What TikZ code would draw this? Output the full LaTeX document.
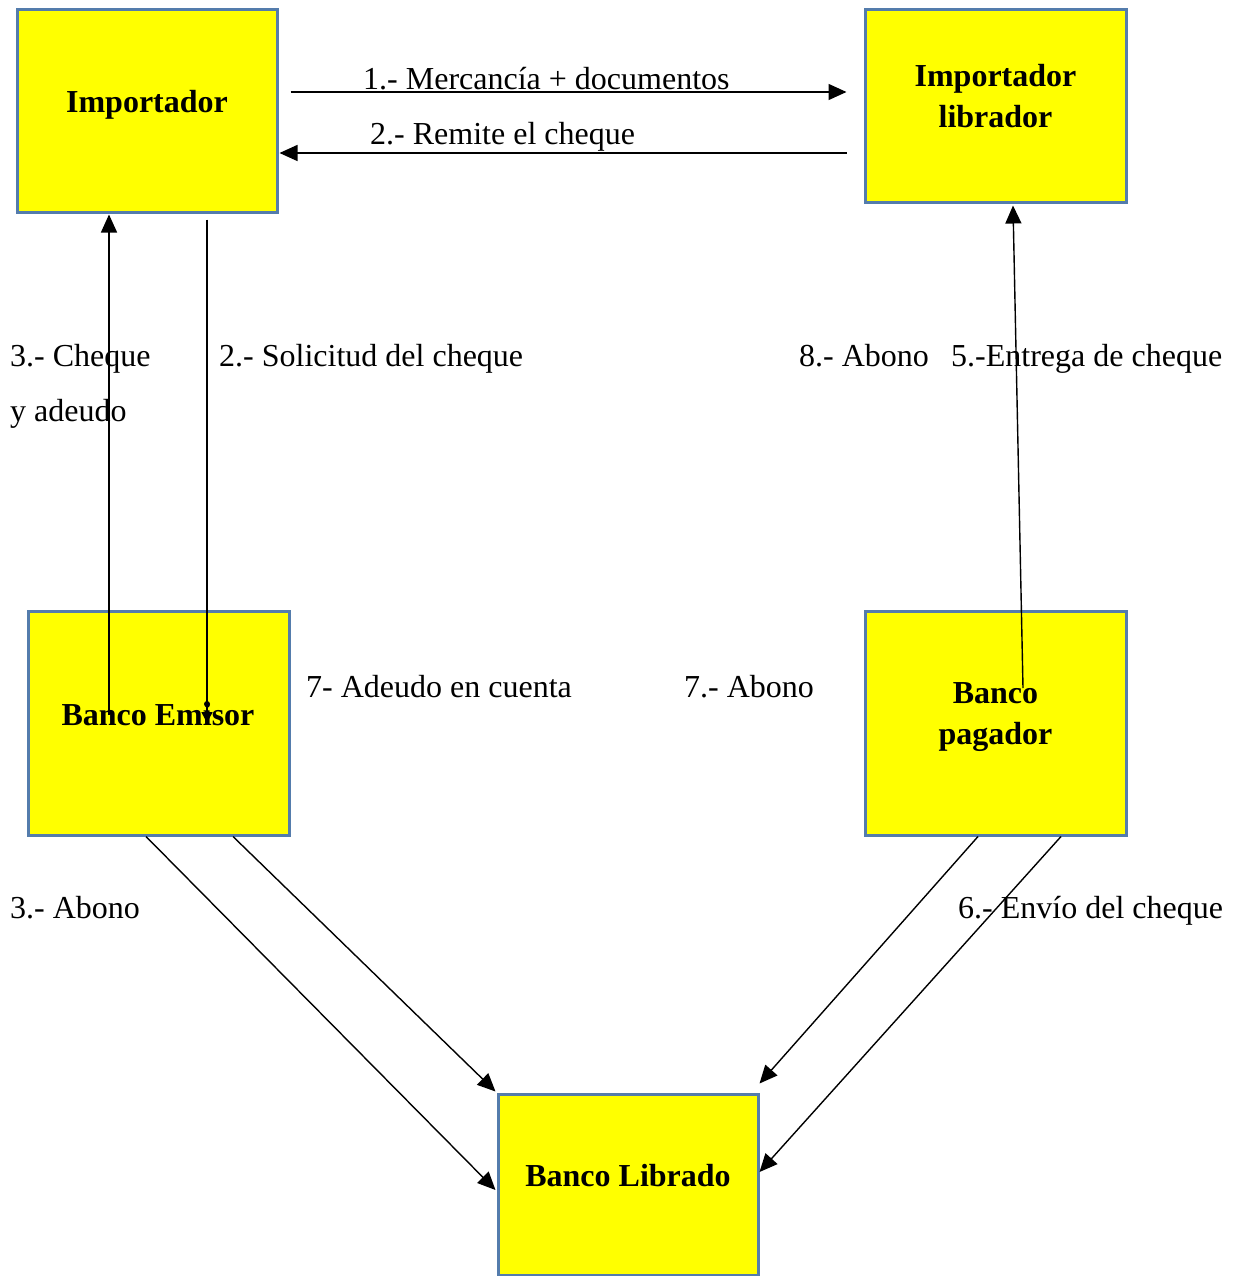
\documentclass[tikz,border=0pt]{standalone}
\usepackage{fontspec}
\setmainfont{Liberation Serif}
\usetikzlibrary{arrows.meta,calc}
\definecolor{boxfill}{RGB}{255,255,0}
\definecolor{boxline}{RGB}{84,124,172}
\tikzset{
  box/.style={draw=boxline, line width=3pt, fill=boxfill, inner sep=0pt},
  bt/.style={font=\fontsize{32}{40}\selectfont\bfseries, inner sep=0pt, anchor=base},
  lbl/.style={font=\fontsize{32}{40}\selectfont, inner sep=0pt, anchor=base west},
  conn/.style={line width=1.4pt, -{Triangle[length=18pt,width=16pt]}},
  smallconn/.style={line width=1.4pt, -{Triangle[length=11pt,width=11pt]}}
}
\begin{document}
\begin{tikzpicture}[x=1pt,y=-1pt]
\useasboundingbox[fill=white] (0,0) rectangle (1238,1276);
% boxes
\node[box, minimum width=260pt, minimum height=202pt] (imp) at (147,111) {};
\node[box, minimum width=261pt, minimum height=192pt] (impl) at (995.5,106) {};
\node[box, minimum width=261pt, minimum height=224pt] (emi) at (158.5,723) {};
\node[box, minimum width=261pt, minimum height=224pt] (pag) at (995.5,723) {};
\node[box, minimum width=260pt, minimum height=181pt] (lib) at (628,1184.5) {};
% box texts
\node[bt] (timp) at (147,113) {Importador};
\node[bt] (timpl1) at (995.5,87) {Importador};
\node[bt] (timpl2) at (995.5,128) {librador};
\node[bt] (temi) at (158,725) {Banco Emisor};
\node[bt] (tpag1) at (995.5,703) {Banco};
\node[bt] (tpag2) at (995.5,744) {pagador};
\node[bt] (tlib) at (628,1186) {Banco Librado};
% labels
\node[lbl] (l1) at (363,90) {1.- Mercancía + documentos};
\node[lbl] (l2) at (370,145) {2.- Remite el cheque};
\node[lbl] (l3a) at (10,366) {3.- Cheque};
\node[lbl] (l3b) at (10,421) {y adeudo};
\node[lbl] (l2b) at (219,366) {2.- Solicitud del cheque};
\node[lbl] (l8) at (799,366) {8.- Abono};
\node[lbl] (l5) at (951,366) {5.-Entrega de cheque};
\node[lbl] (l7a) at (306,697) {7- Adeudo en cuenta};
\node[lbl] (l7b) at (684,697) {7.- Abono};
\node[lbl] (l3c) at (10,918) {3.- Abono};
\node[lbl] (l6) at (958,918) {6.- Envío del cheque};
% connectors
\draw[conn] ($(imp.east)+(12,-19)$) -- ($(impl.west)+(-17,-14)$);
\draw[conn] ($(impl.west)+(-17,47)$) -- ($(imp.east)+(1,42)$);
\draw[conn] ($(emi.center)+(-49.5,-8)$) -- ($(imp.south)+(-38,1)$);
\draw[smallconn] ($(imp.south)+(60,6)$) -- ($(emi.center)+(48.5,0)$);
\fill ($(emi.center)+(48.5,-19)$) circle (3pt);
\draw[conn] ($(pag.center)+(27.5,-35)$) -- ($(impl.south)+(17.5,2)$);
\draw[conn] ($(emi.south)+(-12.5,0)$) -- ($(lib.west)+(-1,5.5)$);
\draw[conn] ($(emi.south)+(74.5,0)$) -- ($(lib.north west)+(-1,-1)$);
\draw[conn] ($(pag.south)+(-17.5,0)$) -- ($(lib.north east)+(0,-9)$);
\draw[conn] ($(pag.south)+(65.5,0)$) -- ($(lib.east)+(0,-12.5)$);
\end{tikzpicture}
\end{document}
